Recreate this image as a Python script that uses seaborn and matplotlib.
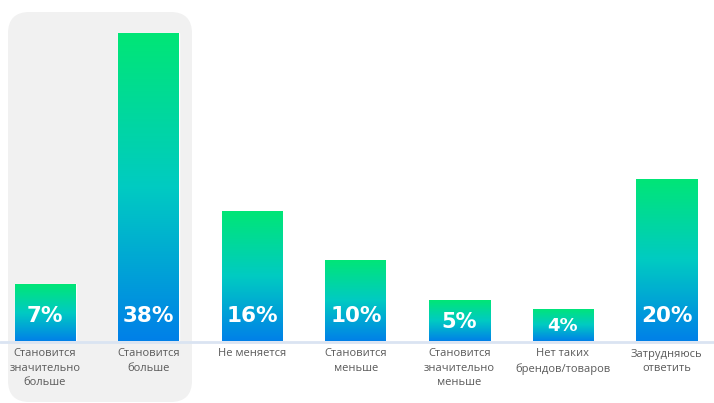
import numpy as np
import pandas as pd
import matplotlib
matplotlib.use("Agg")
import matplotlib.pyplot as plt
import seaborn as sns
from matplotlib.colors import LinearSegmentedColormap
from matplotlib.patches import FancyBboxPatch
from matplotlib.lines import Line2D

categories = ["Становится\nзначительно\nбольше", "Становится\nбольше", "Не меняется",
              "Становится\nменьше", "Становится\nзначительно\nменьше",
              "Нет таких\nбрендов/товаров", "Затрудняюсь\nответить"]
values = [7, 38, 16, 10, 5, 4, 20]
labels = ["7%", "38%", "16%", "10%", "5%", "4%", "20%"]

W, H = 714, 403
sns.set_theme(style="white")
plt.rcParams['font.family'] = ['Open Sans', 'DejaVu Sans']

fig = plt.figure(figsize=(W / 100, H / 100), dpi=100)
fig.patch.set_facecolor("white")

# highlight panel
panel = FancyBboxPatch((8 / W, (H - 402) / H), (192 - 8) / W, (402 - 12) / H,
                       boxstyle="round,pad=0,rounding_size=0.03",
                       transform=fig.transFigure, facecolor="#f1f1f1",
                       edgecolor="none", zorder=-5, mutation_aspect=W / H)
fig.patches.append(panel)

# baseline
fig.add_artist(Line2D([0, 1], [(H - 342) / H] * 2, transform=fig.transFigure,
                      color="#dae4f2", lw=2, zorder=-4))

base_px = 341
ax = fig.add_axes([0, (H - base_px) / H, 1, base_px / H])
ax.set_zorder(2)
ax.patch.set_alpha(0)
px_per_unit = 308 / 38
spacing = 103.6
x0 = 45

df = pd.DataFrame({"cat": categories, "val": values})
sns.barplot(data=df, x="cat", y="val", ax=ax, width=61 / spacing,
            color="#00c9c5", saturation=1, zorder=2)

cmap = LinearSegmentedColormap.from_list("g", [(0, "#0080e8"), (0.5, "#00cbc2"), (1, "#00e676")])
grad = np.linspace(0, 1, 256).reshape(-1, 1)
for p in list(ax.patches):
    x, y = p.get_x(), p.get_y()
    w, h = p.get_width(), p.get_height()
    im = ax.imshow(grad, cmap=cmap, origin="lower", aspect="auto",
                   extent=[x, x + w, y, y + h], zorder=3)
    im.set_clip_path(p)
    p.set_facecolor("none")

ax.set_xlim(-x0 / spacing, (W - x0) / spacing)
ax.set_ylim(0, base_px / px_per_unit)

for i, (v, lab) in enumerate(zip(values, labels)):
    hpx = v * px_per_unit
    if hpx > 55:
        ypos = 25 / px_per_unit
        fs = 15.5
    else:
        ypos = v / 2 - 1.5 / px_per_unit
        fs = 15 if v >= 5 else 13
    ax.text(i, ypos, lab, ha="center", va="center", color="white",
            fontsize=fs, fontweight="bold", zorder=5,
            family=['DejaVu Sans'])

ax.set_xticks([])
ax.set_yticks([])
ax.set_xlabel("")
ax.set_ylabel("")
for s in ax.spines.values():
    s.set_visible(False)

for i, c in enumerate(categories):
    xpx = x0 + i * spacing
    fig.text(xpx / W, (H - 348.5) / H, c, ha="center", va="top", fontsize=8,
             color="#5a5a5a", linespacing=1.42)

fig.savefig("out.png", dpi=100)
